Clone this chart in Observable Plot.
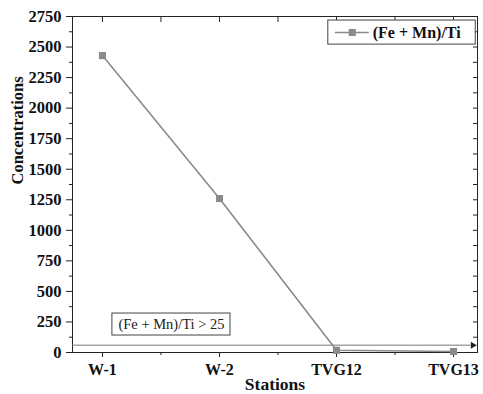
<!DOCTYPE html>
<html><head><meta charset="utf-8">
<script src="https://cdn.jsdelivr.net/npm/d3@7"></script>
<script src="https://cdn.jsdelivr.net/npm/@observablehq/plot@0.6"></script>
<style>body{margin:0;background:#fff} svg{font-family:"Liberation Serif","Times New Roman",serif}</style>
</head><body><div id="chart"></div>
<script>
const stations = ["W-1", "W-2", "TVG12", "TVG13"];
const ratio = [2430, 1260, 18, 8];
const yTicks = [0, 250, 500, 750, 1000, 1250, 1500, 1750, 2000, 2250, 2500, 2750];
const yMinor = [125, 375, 625, 875, 1125, 1375, 1625, 1875, 2125, 2375, 2625];
const xMajor = [0, 1, 2, 3];
const xMinor = [0.5, 1.5, 2.5];
const seriesName = "(Fe + Mn)/Ti";
const thresholdLabel = "(Fe + Mn)/Ti > 25";
const thresholdValue = 60;

const data = stations.map((s, i) => ({i, s, v: ratio[i]}));
const gray = "#8a8a8a";
const xmin = -0.256, xmax = 3.205;

const chart = Plot.plot({
  width: 483, height: 394,
  marginLeft: 72, marginRight: 6, marginTop: 16, marginBottom: 42,
  x: {type: "linear", domain: [xmin, xmax]},
  y: {domain: [0, 2750]},
  marks: [
    Plot.frame({stroke: "#222"}),
    Plot.axisY({ticks: yTicks, tickFormat: d => String(d), tickSize: 6, tickPadding: 5, fontSize: 16.5, fontWeight: "bold", label: null, stroke: "#222", fill: "#111"}),
    Plot.axisY({ticks: yMinor, tickSize: 3, text: null, label: null, stroke: "#222"}),
    Plot.axisY({anchor: "right", ticks: yTicks.concat(yMinor), tickSize: -5, text: null, label: null, stroke: "#222"}),
    Plot.axisX({ticks: xMajor, tickFormat: i => stations[i], tickSize: 5, tickPadding: 6, fontSize: 16, fontWeight: "bold", label: null, stroke: "#222", fill: "#111"}),
    Plot.axisX({ticks: xMinor, tickSize: 3, text: null, label: null, stroke: "#222"}),
    Plot.axisX({anchor: "top", ticks: xMajor.concat(xMinor), tickSize: -5, text: null, label: null, stroke: "#222"}),
    Plot.text(["Stations"], {frameAnchor: "bottom", dy: 37, lineAnchor: "bottom", fontSize: 17.5, fontWeight: "bold", fill: "#111"}),
    Plot.text(["Concentrations"], {frameAnchor: "left", dx: -55, rotate: -90, fontSize: 16.5, fontWeight: "bold", fill: "#111"}),
    // threshold line with arrow
    Plot.ruleY([thresholdValue], {x1: xmin, x2: 3.15, stroke: "#777", strokeWidth: 1}),
    Plot.dot([thresholdValue], {x: 3.165, y: d => d, symbol: "triangle", rotate: 90, r: 2.6, fill: "#222", stroke: null}),
    // threshold label box
    Plot.rect([0], {x1: 0.085, x2: 1.094, y1: 139, y2: 319, fill: "white", stroke: "#444", strokeWidth: 1}),
    Plot.text([thresholdLabel], {x: 0.59, y: 229, fontSize: 14.5, fill: "#222"}),
    // series
    Plot.line(data, {x: "i", y: "v", stroke: gray, strokeWidth: 1.6}),
    Plot.dot(data, {x: "i", y: "v", symbol: "square", r: 4, fill: gray, stroke: null}),
    // legend
    Plot.rect([0], {x1: 1.93, x2: 3.19, y1: 2520, y2: 2717, fill: "white", stroke: "#444", strokeWidth: 1}),
    Plot.ruleY([2619], {x1: 1.99, x2: 2.28, stroke: gray, strokeWidth: 1.6}),
    Plot.dot([2619], {x: 2.135, y: d => d, symbol: "square", r: 4, fill: gray, stroke: null}),
    Plot.text([seriesName], {x: 2.31, y: 2619, textAnchor: "start", fontSize: 16, fontWeight: "bold", fill: "#111"})
  ]
});
document.getElementById("chart").appendChild(chart);
</script></body></html>
